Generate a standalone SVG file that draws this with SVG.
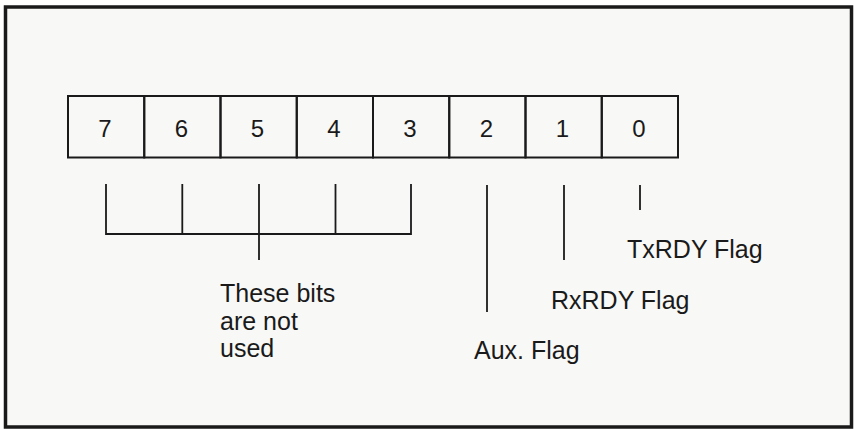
<svg xmlns="http://www.w3.org/2000/svg" width="854" height="429" viewBox="0 0 854 429">
<style>
.frame{fill:#f8f8f6;stroke:#1a1a1a;stroke-width:3.5}
.cell{fill:none;stroke:#1a1a1a;stroke-width:2}
.ln{stroke:#1a1a1a;stroke-width:1.8;fill:none}
.dig{font-family:"Liberation Sans",Arial,sans-serif;font-size:24px;fill:#1a1a1a;text-anchor:middle}
.lbl{font-family:"Liberation Sans",Arial,sans-serif;font-size:25px;fill:#1a1a1a}
</style>
<rect class="frame" x="5.5" y="7" width="846" height="420"/>
<g id="register">
<g id="bit7"><rect class="cell" x="68" y="96" width="76.25" height="61.5"/><text class="dig" x="105" y="137">7</text></g>
<g id="bit6"><rect class="cell" x="144.25" y="96" width="76.25" height="61.5"/><text class="dig" x="181.5" y="137">6</text></g>
<g id="bit5"><rect class="cell" x="220.5" y="96" width="76.25" height="61.5"/><text class="dig" x="257.5" y="137">5</text></g>
<g id="bit4"><rect class="cell" x="296.75" y="96" width="76.25" height="61.5"/><text class="dig" x="334" y="137">4</text></g>
<g id="bit3"><rect class="cell" x="373" y="96" width="76.25" height="61.5"/><text class="dig" x="410" y="137">3</text></g>
<g id="bit2"><rect class="cell" x="449.25" y="96" width="76.25" height="61.5"/><text class="dig" x="486.5" y="137">2</text></g>
<g id="bit1"><rect class="cell" x="525.5" y="96" width="76.25" height="61.5"/><text class="dig" x="562.5" y="137">1</text></g>
<g id="bit0"><rect class="cell" x="601.75" y="96" width="76.25" height="61.5"/><text class="dig" x="639" y="137">0</text></g>
</g>
<g id="connectors">
<path class="ln" d="M106,184 V234 H411 V184 M182.3,184 V234 M259,184 V260 M335.5,184 V234"/>
<path class="ln" d="M487,185 V312"/>
<path class="ln" d="M564,185 V260"/>
<path class="ln" d="M640,185 V210"/>
</g>
<g id="label-unused"><text class="lbl" x="220" y="302">These bits</text><text class="lbl" x="220" y="329.5">are not</text><text class="lbl" x="220" y="357">used</text></g>
<g id="label-aux"><text class="lbl" x="474" y="359">Aux. Flag</text></g>
<g id="label-rxrdy"><text class="lbl" x="551" y="308.5">RxRDY Flag</text></g>
<g id="label-txrdy"><text class="lbl" x="627" y="257.5">TxRDY Flag</text></g>
</svg>
